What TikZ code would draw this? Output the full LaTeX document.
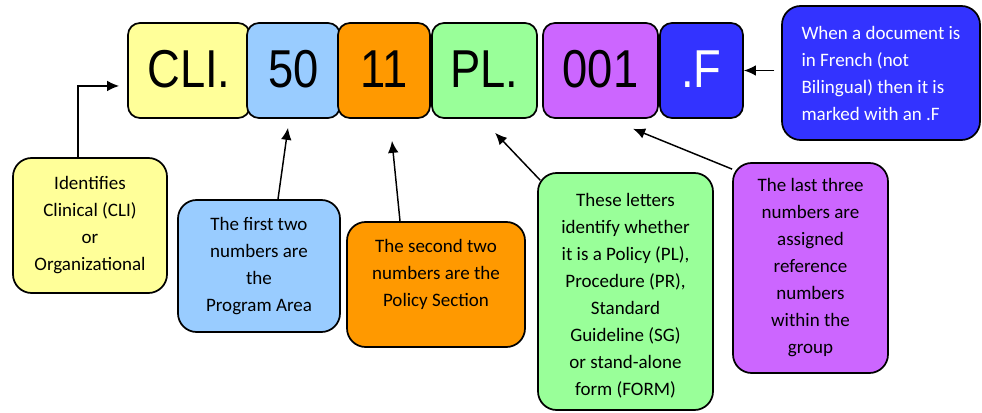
\documentclass[tikz,border=0pt]{standalone}
\usepackage{fontspec}
\setmainfont{Carlito}
\newfontfamily\arialf{Liberation Sans}
\usetikzlibrary{arrows.meta,calc}
\definecolor{cyel}{HTML}{FFFF99}
\definecolor{clblue}{HTML}{99CCFF}
\definecolor{corange}{HTML}{FF9900}
\definecolor{cgreen}{HTML}{99FF99}
\definecolor{cpurple}{HTML}{CC66FF}
\definecolor{cdblue}{HTML}{3333FF}
\begin{document}
\begin{tikzpicture}[x=0.75pt,y=-0.75pt,
  topbox/.style={draw=black, line width=1.3pt, rounded corners=9pt,
    minimum height=71.25pt, inner sep=0pt,
    font=\arialf\fontsize{40}{40}\selectfont},
  toptext/.style={yshift=2pt},
  callout/.style={draw=black, line width=1.3pt, rounded corners=14pt,
    align=center, inner sep=0pt,
    font=\fontsize{14.25}{20.25}\selectfont},
  arr/.style={line width=1.1pt, -{Latex[length=9pt,width=8pt]}}]
\useasboundingbox (0,0) rectangle (982,413);

% top code boxes
\node[topbox, fill=cyel, minimum width=91.5pt] (cli) at (189,70.5) {\raisebox{2pt}{\scalebox{0.85}[1]{CLI.}}};
\node[topbox, fill=clblue, minimum width=69.75pt] (n50) at (293.5,70.5) {\raisebox{2pt}{\scalebox{0.85}[1]{50}}};
\node[topbox, fill=corange, minimum width=69pt] (n11) at (384,70.5) {\raisebox{2pt}{\scalebox{0.85}[1]{11}}};
\node[topbox, fill=cgreen, minimum width=78.75pt] (pl) at (484.5,70.5) {\raisebox{2pt}{\scalebox{0.85}[1]{PL.}}};
\node[topbox, fill=cpurple, minimum width=86.25pt] (n001) at (600.5,70.5) {\raisebox{2pt}{\scalebox{0.85}[1]{001}}};
\node[topbox, fill=cdblue, text=white, minimum width=62.25pt] (fb) at (701.5,70.5) {\raisebox{2pt}{\scalebox{0.85}[1]{.F}}};

% callouts
\node[callout, fill=cyel, minimum width=115.5pt, minimum height=101.25pt] (yl) at (90,225.5)
  {Identifies\\Clinical (CLI)\\or\\Organizational};
\node[callout, fill=clblue, minimum width=121.5pt, minimum height=99pt] (bl) at (259,266)
  {The first two\\numbers are\\the\\Program Area};
\node[callout, fill=corange, minimum width=133.5pt, minimum height=93.75pt,
  label={[align=center, font=\fontsize{14.25}{20.25}\selectfont, yshift=7.9pt]center:{The second two\\numbers are the\\Policy Section}}] (or) at (436,284.5) {};
\node[callout, fill=cgreen, minimum width=131.25pt, minimum height=177.75pt,
  label={[align=center, font=\fontsize{14.25}{20.25}\selectfont, yshift=-3.4pt]center:{These letters\\identify whether\\it is a Policy (PL),\\Procedure (PR),\\Standard\\Guideline (SG)\\or stand-alone\\form (FORM)}}] (gr) at (625.5,291.5) {};
\node[callout, fill=cpurple, minimum width=116.25pt, minimum height=157.5pt] (pu) at (810.5,268)
  {The last three\\numbers are\\assigned\\reference\\numbers\\within the\\group};
\node[callout, fill=cdblue, text=white, align=left, minimum width=148.5pt, minimum height=100.5pt] (db) at (881,73)
  {When a document is\\in French (not\\Bilingual) then it is\\marked with an .F};

% connectors
\draw[arr, shorten >=6pt] ([xshift=-9pt]yl.north) |- ([yshift=-11.6pt]cli.west);
\draw[arr, shorten >=6.8pt] ([xshift=14.25pt]bl.north) -- ([xshift=-3.2pt]n50.south);
\draw[arr, shorten >=16.6pt] ([xshift=-27pt]or.north) -- ([xshift=4.35pt]n11.south);
\draw[arr, shorten >=14.4pt] ([xshift=2.25pt,yshift=-6pt]gr.north west) -- ([xshift=-2pt]pl.south);
\draw[arr, shorten >=19.8pt] ([yshift=-5.25pt]pu.north west) -- ([xshift=6.1pt]n001.south);
\draw[arr, shorten <=5pt] (db.west |- fb.east) -- (fb.east);
\end{tikzpicture}
\end{document}
